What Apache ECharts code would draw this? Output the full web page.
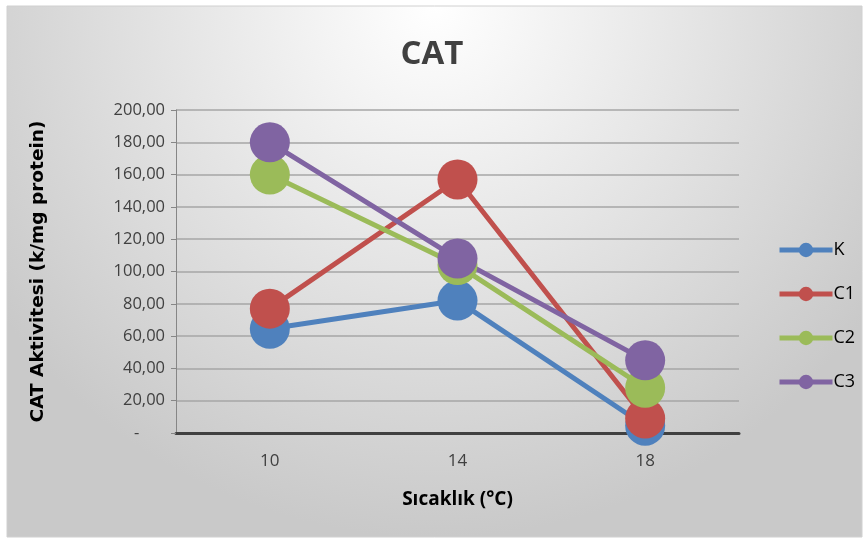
<!DOCTYPE html>
<html>
<head>
<meta charset="utf-8">
<script src="https://cdn.jsdelivr.net/npm/echarts@6/dist/echarts.min.js"></script>
<style>
  html, body { margin: 0; padding: 0; background: #fff; }
  #chart { width: 864px; height: 539px; }
</style>
</head>
<body>
<div id="chart"></div>
<script>
// kategoriler - sıcaklık
const categories = ['10', '14', '18']
// seriler
const seriesNames = ['K', 'C1', 'C2', 'C3']
const valuesK = [64.5, 82, 4.5]
const valuesC1 = [77, 157, 9]
const valuesC2 = [160, 104, 28]
const valuesC3 = [180, 108, 45]
const colors = ['#4f81bd', '#c0504d', '#9bbb59', '#8064a2']

const narrow = '"Open Sans", sans-serif'

const chart = echarts.init(document.getElementById('chart'))
const allValues = [valuesK, valuesC1, valuesC2, valuesC3]

const option = {
  animation: false,
  graphic: [
    {
      type: 'rect',
      z: -10,
      shape: { x: 7, y: 6, width: 855, height: 531 },
      style: {
        fill: new echarts.graphic.RadialGradient(0.5, 0, 1.0, [
          { offset: 0, color: '#ffffff' },
          { offset: 1, color: '#c9c9c9' }
        ]),
        stroke: '#d0d0d0',
        lineWidth: 1
      }
    }
  ],
  title: {
    text: 'CAT',
    left: 'center',
    top: 33,
    textStyle: { fontFamily: narrow, fontSize: 33, fontWeight: 'bold', color: '#404040' }
  },
  legend: {
    orient: 'vertical',
    left: 772,
    top: 236,
    itemGap: 26,
    itemWidth: 53,
    itemHeight: 18,
    data: seriesNames,
    lineStyle: { width: 5 },
    textStyle: { fontFamily: narrow, fontSize: 18, color: '#000', padding: [0, 0, 0, -4] }
  },
  grid: { left: 176, right: 125, top: 110, bottom: 106 },
  xAxis: {
    type: 'category',
    data: categories,
    name: 'Sıcaklık (°C)',
    nameLocation: 'middle',
    nameGap: 57,
    nameTextStyle: { fontFamily: narrow, fontSize: 19, fontWeight: 'bold', color: '#000' },
    axisLine: { lineStyle: { color: '#404040', width: 3 } },
    axisTick: { length: 6, lineStyle: { color: '#404040', width: 3 } },
    axisLabel: { fontFamily: narrow, fontSize: 17, color: '#404040', margin: 20 }
  },
  yAxis: {
    type: 'value',
    min: 0,
    max: 200,
    interval: 20,
    name: 'CAT Aktivitesi (k/mg protein)',
    nameLocation: 'middle',
    nameGap: 128,
    nameRotate: 90,
    nameTextStyle: { fontFamily: '"DejaVu Sans", sans-serif', fontSize: 18.5, fontWeight: 'bold', color: '#000' },
    axisLine: { show: true, lineStyle: { color: '#868686', width: 1 } },
    axisTick: { show: true, length: 5, lineStyle: { color: '#868686' } },
    splitLine: { lineStyle: { color: '#a6a6a6', width: 1.5 } },
    axisLabel: {
      fontFamily: narrow,
      fontSize: 16.5,
      color: '#404040',
      margin: 11,
      formatter: v => v === 0 ? '-      ' : v.toFixed(2).replace('.', ',')
    }
  },
  series: seriesNames.map((name, i) => ({
    name: name,
    type: 'line',
    data: allValues[i],
    symbol: 'circle',
    symbolSize: 40,
    color: colors[i],
    lineStyle: { width: 5, color: colors[i] },
    itemStyle: { color: colors[i] }
  }))
}

chart.setOption(option)
</script>
</body>
</html>
